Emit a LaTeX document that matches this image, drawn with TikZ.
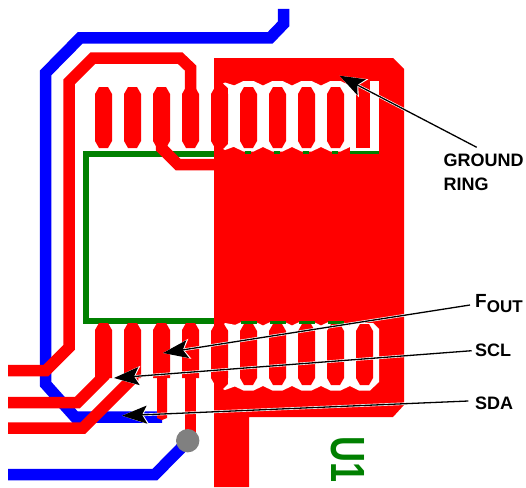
\documentclass[tikz,border=0pt]{standalone}
\usepackage{fontspec}
\setmainfont{Liberation Sans}
\usetikzlibrary{arrows.meta}
\definecolor{pcbred}{RGB}{255,0,0}
\definecolor{pcbblue}{RGB}{0,0,255}
\definecolor{pcbgreen}{RGB}{0,128,0}
\tikzset{
  x=1pt,y=-1pt,
  bluetrace/.style={draw=pcbblue,line width=11.5pt,line join=miter},
  redtrace/.style={draw=pcbred,line width=11.5pt,line join=miter},
  silk/.style={draw=pcbgreen,line width=6pt},
  calloutbg/.style={draw=white,line width=2.6pt,-{Stealth[length=27pt,width=20pt,inset=6pt]}},
  calloutfg/.style={draw=black,line width=1.3pt,-{Stealth[length=25pt,width=18pt,inset=5pt]}},
  lbl/.style={font=\bfseries\fontsize{18}{20}\selectfont,anchor=base west,inner sep=0pt,align=left},
}
% pad: x-centre, top y, bottom y
\newcommand{\padpath}[3]{(#1-8.5,#2+7) -- (#1-4.5,#2) -- (#1+4.5,#2) -- (#1+8.5,#2+7) -- (#1+8.5,#3-7) -- (#1+4.5,#3) -- (#1-4.5,#3) -- (#1-8.5,#3-7) -- cycle}
% clearance: x-centre, top, bottom
\newcommand{\clearpath}[3]{(#1-14.5,#2+4.5) -- (#1-5,#2) -- (#1+5,#2) -- (#1+14.5,#2+4.5) -- (#1+14.5,#3-4.5) -- (#1+5,#3) -- (#1-5,#3) -- (#1-14.5,#3-4.5) -- cycle}
\begin{document}
\begin{tikzpicture}
\useasboundingbox (0,0) rectangle (526,487);
\fill[white] (0,0) rectangle (526,487);
% blue traces
\draw[bluetrace] (283.5,9) -- (283.5,24) -- (270,38) -- (80,38) -- (45.5,73) -- (45.5,384) -- (75,417) -- (162,417);
\draw[bluetrace] (8,474.5) -- (155,474.5) -- (188,441);
% green outline
\draw[silk] (86,154) rectangle (380,321);
% plane
\fill[pcbred] (214,58) -- (393,58) -- (404,69) -- (404,405) -- (393,417) -- (249,417) -- (249,487) -- (214,487) -- cycle;
% clearance top
\foreach \c in {248.5,277.5,306.5,335.5}{
  \fill[white] \clearpath{\c}{81}{151.5};
}
\fill[white] (350,81) rectangle (379,151);
\fill[white] (223,83.5) -- (225,82.5) -- (236,86) -- (236,146) -- (225,150) -- (223,149) -- (228,144) -- (228,88) -- cycle;
% clearance bottom
\foreach \c in {248.5,277.5,306.5,335.5}{
  \fill[white] \clearpath{\c}{321}{390.5};
}
\fill[white] (350,323) -- (373,323) -- (379,329) -- (379,382) -- (370,390.5) -- (359,390.5) -- (350,386) -- cycle;
\fill[white] (223,325) -- (225,323) -- (236,325) -- (236,386) -- (225,390) -- (223,389) -- (228,384) -- (228,330) -- cycle;
% green seen through the clearances
\foreach \c in {248.5,277.5,306.5,335.5}{
  \fill[pcbgreen] (\c-3.5,151) rectangle (\c+2.5,153.5);
  \fill[pcbgreen] (\c-8,321) rectangle (\c+8,324);
}
\fill[pcbgreen] (350,151) rectangle (379,153.5);
% pads, top row
\foreach \c in {103.5,132.5,161.5,190.5,219.5,248.5,277.5,306.5,335.5}{
  \fill[pcbred] \padpath{\c}{87}{148};
}
\fill[pcbred] (355.5,78) rectangle (370,148);
% pads, bottom row
\foreach \c in {103.5,132.5,161.5,190.5}{
  \fill[pcbred] (\c-8.5,378) -- (\c-8.5,330) -- (\c-4.5,323) -- (\c+4.5,323) -- (\c+8.5,330) -- (\c+8.5,378) -- cycle;
}
\foreach \c in {219.5,248.5,277.5,306.5,335.5,364.5}{
  \fill[pcbred] \padpath{\c}{324}{385};
}
% red traces
\draw[redtrace] (190.5,95) -- (190.5,68) -- (180,58) -- (93,58) -- (69,82) -- (69,347.5) -- (46,370.5) -- (8,370.5);
\draw[redtrace] (161.5,140) -- (161.5,148) -- (178,164.5) -- (216,164.5);
\draw[redtrace] (103.5,370) -- (103.5,376.5) -- (77.5,402.5) -- (8,402.5);
\draw[redtrace] (132.5,370) -- (132.5,378.5) -- (83,428) -- (8,428);
\fill[pcbred] (157,375) -- (167,375) -- (167,418) -- (162,420) -- (157,418) -- cycle;
\draw[draw=pcbred,line width=11pt] (190.5,375) -- (190.5,435);
% via
\fill[gray] (187.7,440.7) circle (11.7);
% U1
\node[text=pcbgreen,rotate=-90,inner sep=0pt,xscale=.75] (u1) at (347.5,460) {\bfseries\fontsize{48}{48}\selectfont U1};
% labels
\node[lbl] (g) at (443.5,166.7) {GROUND};
\node[lbl] (r) at (443.5,190) {RING};
\node[lbl] (f) at (475,307.7) {\fontsize{19}{20}\selectfont F\raisebox{-5pt}{\fontsize{17}{20}\selectfont OUT}};
\node[lbl] (c) at (475,356.7) {SCL};
\node[lbl] (d) at (475,409.3) {SDA};
% callouts
\coordinate (ge) at (476.7,147.3); \coordinate (gt) at (339.5,75.7);
\coordinate (fe) at (470,305);     \coordinate (ft) at (163,353);
\coordinate (ce) at (471.7,350.7); \coordinate (ct) at (114,378);
\coordinate (de) at (468.3,401);   \coordinate (dt) at (122,415.7);
\foreach \a in {g,f,c,d}{
  \draw[calloutbg] (\a e) -- (\a t);
  \draw[calloutfg] (\a e) -- (\a t);
}
\end{tikzpicture}
\end{document}
